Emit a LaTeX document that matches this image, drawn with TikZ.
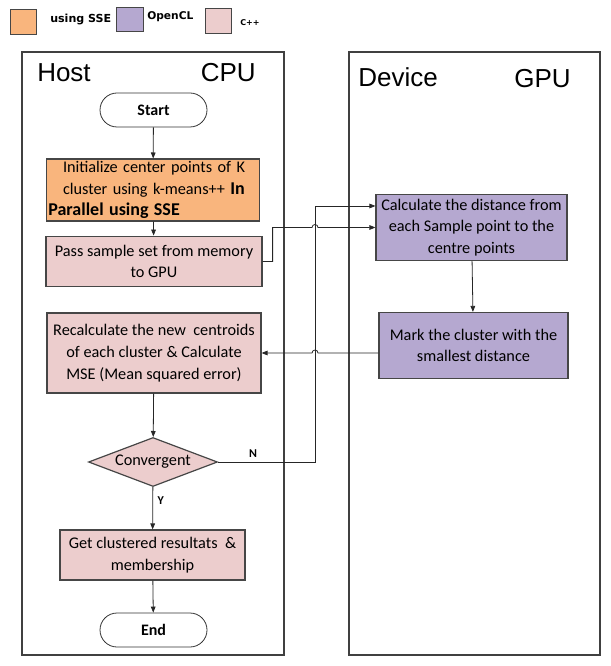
\documentclass[tikz,border=0pt]{standalone}
\usepackage{fontspec}
\setmainfont{Carlito}
\newfontfamily\arialfont{Liberation Sans}
\newfontfamily\legendfont{DejaVu Sans}
\usetikzlibrary{positioning, arrows.meta, shapes.geometric}
\definecolor{sseorange}{RGB}{249,181,125}
\definecolor{clpurple}{RGB}{181,168,208}
\definecolor{cpppink}{RGB}{236,205,205}
\definecolor{edgegray}{RGB}{70,70,70}

\begin{document}
\begin{tikzpicture}[x=0.75pt, y=-0.75pt, font=\fontsize{12.2}{16.3}\selectfont,
  >={Triangle[length=4.5pt,width=3.5pt]},
  box/.style={draw=edgegray, line width=0.9pt, align=center, inner sep=1pt},
  pill/.style={draw=black!80, line width=0.6pt, rounded corners=12.75pt,
    minimum width=80.25pt, minimum height=25.5pt, font=\bfseries\fontsize{12}{13}\selectfont},
  swatch/.style={draw=edgegray, line width=0.9pt, minimum width=20pt, minimum height=18.5pt},
  lane/.style={draw=black!75, line width=0.8pt},
  lanetitle/.style={inner sep=0pt, font=\arialfont\fontsize{19.5}{20}\selectfont},
  flow/.style={->, line width=0.6pt, draw=black!85}]
  \useasboundingbox (0,0) rectangle (610,666);

  % Legend
  \node[swatch, fill=sseorange] (legsse) at (23.5,22) {};
  \node[anchor=west, inner sep=0pt, font=\legendfont\bfseries\fontsize{8.3}{9}\selectfont] (legssetxt) at (50,19) {using SSE};
  \node[swatch, fill=clpurple] (legcl) at (130,19.5) {};
  \node[anchor=west, inner sep=0pt, font=\legendfont\bfseries\fontsize{8}{9}\selectfont] (legcltxt) at (147,17) {OpenCL};
  \node[swatch, fill=cpppink] (legcpp) at (218.5,21) {};
  \node[anchor=west, inner sep=0pt, font=\legendfont\bfseries\fontsize{6}{7}\selectfont] (legcpptxt) at (240,23) {C++};

  % Lanes
  \draw[lane] (22,52) rectangle (284,655);
  \draw[lane] (349,52) rectangle (600,655);
  \node[lanetitle, anchor=base west] (hostlbl) at (37,82) {Host};
  \node[lanetitle, anchor=base east] (cpulbl) at (256,82) {CPU};
  \node[lanetitle, anchor=base west] (devlbl) at (358,87) {Device};
  \node[lanetitle, anchor=base east] (gpulbl) at (571,88) {GPU};

  % Host side
  \node[pill] (start) at (153.5,110) {Start};
  \node[box, fill=sseorange, align=left, text width=157pt, inner sep=1.5pt, minimum height=45pt] (initk) at (153,190)
    {\hspace*{11pt}Initialize center points of K\\
     \hspace*{11pt}cluster using k-means++ {\bfseries\fontsize{13.5}{16.3}\selectfont In}\\
     {\bfseries\fontsize{13.5}{16.3}\selectfont Parallel using SSE}};
  \node[box, fill=cpppink, minimum width=162pt, minimum height=38pt] (passset) at (154,261.5)
    {Pass sample set from memory\\to GPU};
  \node[box, fill=cpppink, minimum width=160.5pt, minimum height=60pt] (recalc) at (154,353)
    {Recalculate the new\ \ centroids\\of each cluster \& Calculate\\MSE (Mean squared error)};
  \node[diamond, draw=edgegray, line width=0.9pt, fill=cpppink, aspect=2.6, inner sep=0pt,
    minimum width=96.75pt, minimum height=36.75pt] (conv) at (153,462) {Convergent};
  \node[box, fill=cpppink, minimum width=138.75pt, minimum height=37.5pt] (result) at (152.5,555)
    {Get clustered resultats\ \ \&\\membership};
  \node[pill] (stop) at (153.5,630) {End};

  % Device side
  \node[box, fill=clpurple, minimum width=143.25pt, minimum height=49.5pt] (distcalc) at (471.5,227.5)
    {Calculate the distance from\\each Sample point to the\\centre points};
  \node[box, fill=clpurple, minimum width=141.75pt, minimum height=49.5pt] (markclust) at (473.5,345.5)
    {Mark the cluster with the\\smallest distance};

  % Connectors
  \coordinate (bus) at (315,0);
  \coordinate (ntop) at (315,206);
  \draw[flow] (start) -- (initk);
  \draw[flow] (initk) -- (passset);
  \draw[flow] (passset.east) -- ++(10,0) |- ([xshift=-2.25pt]bus |- distcalc.west)
    arc[start angle=180, end angle=360, radius=3] -- (distcalc.west);
  \draw[flow] (distcalc) -- (markclust);
  \draw[flow] (markclust.west |- recalc.east) -- ([xshift=2.25pt]bus |- recalc.east)
    arc[start angle=0, end angle=-180, radius=3] -- (recalc.east);
  \draw[flow] (recalc) -- (conv);
  \draw[flow] (conv.east) -| node[pos=0.18, above, font=\bfseries\fontsize{9}{10}\selectfont] {N}
    (ntop) -- (ntop -| distcalc.west);
  \draw[flow] (conv) -- node[pos=0.33, right, font=\bfseries\fontsize{9}{10}\selectfont] {Y} (result);
  \draw[flow] (result) -- (stop);
\end{tikzpicture}
\end{document}
